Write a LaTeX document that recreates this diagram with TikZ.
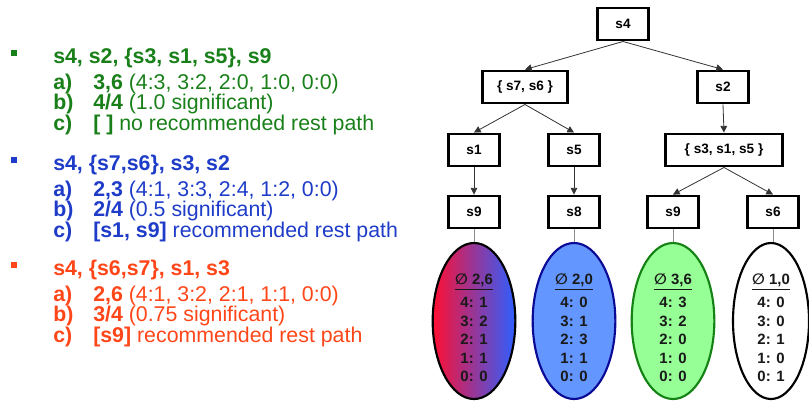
\documentclass[tikz,border=0pt]{standalone}
\usepackage{fontspec}
\setmainfont{Liberation Sans}
\newfontfamily\symfont{DejaVu Sans}
\usetikzlibrary{arrows.meta,%
                shapes.geometric}

\definecolor{pathgreen}{RGB}{25,128,25}
\definecolor{pathblue}{RGB}{30,60,200}
\definecolor{pathred}{RGB}{255,70,25}
\definecolor{mixred}{RGB}{255,15,50}
\definecolor{mixblue}{RGB}{45,95,255}
\definecolor{fillblue}{RGB}{100,150,255}
\definecolor{edgeblue}{RGB}{10,10,150}
\definecolor{fillgreen}{RGB}{150,255,150}
\definecolor{edgegreen}{RGB}{20,130,20}

\pgfdeclarehorizontalshading{redtoblue}{100bp}{color(0bp)=(mixred); color(25bp)=(mixred);
  color(75bp)=(mixblue); color(100bp)=(mixblue)}

\tikzset{
  state/.style={draw, line width=2.2pt, minimum width=38pt, minimum height=24pt,
                inner sep=2pt, font=\bfseries\fontsize{10.2}{12}\selectfont},
  link/.style={-{Triangle[length=5pt,width=5pt]}, draw=black!80, line width=0.6pt},
  tail/.style={draw=black!45, line width=0.6pt},
  stat/.style={ellipse, line width=1.6pt, minimum width=62pt, minimum height=117pt, inner sep=0},
  counts/.style={align=center, text=black!90, font=\bfseries\fontsize{11.2}{13.9}\selectfont},
  item/.style={anchor=west, inner sep=0, font=\fontsize{16}{19}\selectfont},
  bullet/.style={minimum size=3.8pt, inner sep=0},
}

% one coloured path with its three answers
\newcommand{\pathblock}[7]{%
  \node[bullet, fill=#2] (#1dot) at (14,{-#3+1}) {};
  \node[item, text=#2] (#1head) at (53,{-#3-4}) {\textbf{#4}};
  \node[item, text=#2] (#1a) at (53,{-#3-30}) {\textbf{a)}};
  \node[item, text=#2] (#1av) at (93,{-#3-30}) {#5};
  \node[item, text=#2] (#1b) at (53,{-#3-50}) {\textbf{b)}};
  \node[item, text=#2] (#1bv) at (93,{-#3-50}) {#6};
  \node[item, text=#2] (#1c) at (53,{-#3-71}) {\textbf{c)}};
  \node[item, text=#2] (#1cv) at (93,{-#3-71}) {#7};
}

\begin{document}
\begin{tikzpicture}[x=0.75pt,y=0.75pt]
\useasboundingbox (0,0) rectangle (809,-401);

\pathblock{g}{pathgreen}{54}{s4, s2, \{s3, s1, s5\}, s9}%
  {\textbf{3,6} (4:3, 3:2, 2:0, 1:0, 0:0)}{\textbf{4/4} (1.0 significant)}%
  {\textbf{[ ]} no recommended rest path}
\pathblock{b}{pathblue}{161}{s4, \{s7,s6\}, s3, s2}%
  {\textbf{2,3} (4:1, 3:3, 2:4, 1:2, 0:0)}{\textbf{2/4} (0.5 significant)}%
  {\textbf{[s1, s9]} recommended rest path}
\pathblock{r}{pathred}{266}{s4, \{s6,s7\}, s1, s3}%
  {\textbf{2,6} (4:1, 3:2, 2:1, 1:1, 0:0)}{\textbf{3/4} (0.75 significant)}%
  {\textbf{[s9]} recommended rest path}

% tree
\node[state] (s4) at (623,-24) {s4};
\node[state, minimum width=64pt] (s76) at (525,-87) {\{ s7, s6 \}};
\node[state] (s2) at (723,-87) {s2};
\node[state] (s1) at (474,-150) {s1};
\node[state] (s5) at (574,-150) {s5};
\node[state, minimum width=88pt] (s315) at (724,-150) {\{ s3, s1, s5 \}};
\node[state] (s9a) at (474,-212) {s9};
\node[state] (s8) at (574,-212) {s8};
\node[state] (s9b) at (673,-212) {s9};
\node[state] (s6) at (773,-212) {s6};

\draw[link] (s4.south) -- (s76.north);
\draw[link] (s4.south) -- (s2.north);
\draw[link] (s76.south) -- (s1.north);
\draw[link] (s76.south) -- (s5.north);
\draw[link] (s2.south) -- (s315.north);
\draw[link] (s315.south) -- (s9b.north);
\draw[link] (s315.south) -- (s6.north);
\draw[link] (s1.south) -- (s9a.north);
\draw[link] (s5.south) -- (s8.north);

% score ellipses
\node[stat, draw=black, shading=redtoblue] (e1) at (474,-321) {};
\node[stat, draw=edgeblue, fill=fillblue] (e2) at (574,-321) {};
\node[stat, draw=edgegreen, fill=fillgreen] (e3) at (673,-321) {};
\node[stat, draw=black, fill=white, minimum width=57pt] (e4) at (771,-321) {};

\draw[tail] (s9a.south) -- (e1.north);
\draw[tail] (s8.south) -- (e2.north);
\draw[tail] (s9b.south) -- (e3.north);
\draw[tail] (s6.south) -- (s6.south |- e4.north);

\node[counts] (c1) at (474,-328) {\underline{{\symfont ∅} 2,6}\\[3pt] 4: 1\\ 3: 2\\ 2: 1\\ 1: 1\\ 0: 0};
\node[counts] (c2) at (574,-328) {\underline{{\symfont ∅} 2,0}\\[3pt] 4: 0\\ 3: 1\\ 2: 3\\ 1: 1\\ 0: 0};
\node[counts] (c3) at (673,-328) {\underline{{\symfont ∅} 3,6}\\[3pt] 4: 3\\ 3: 2\\ 2: 0\\ 1: 0\\ 0: 0};
\node[counts] (c4) at (771,-328) {\underline{{\symfont ∅} 1,0}\\[3pt] 4: 0\\ 3: 0\\ 2: 1\\ 1: 0\\ 0: 1};
\end{tikzpicture}
\end{document}
